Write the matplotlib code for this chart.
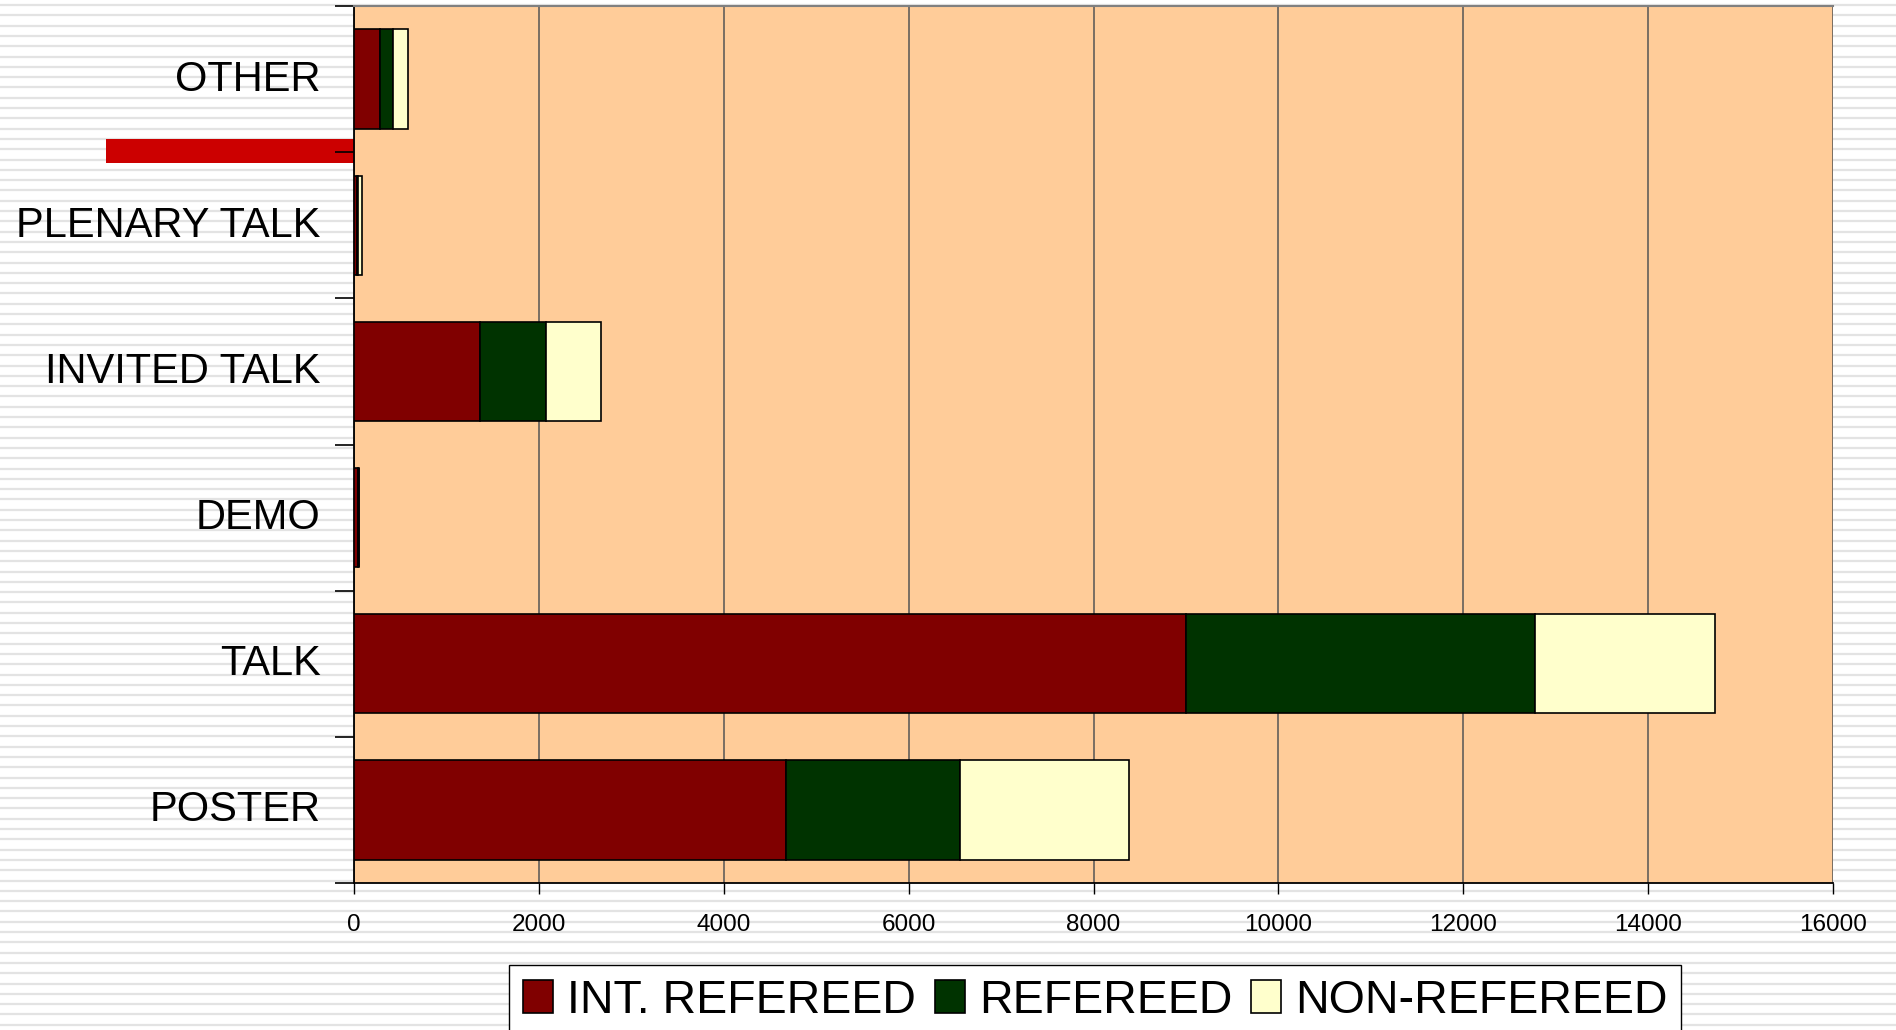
import numpy as np
import matplotlib
matplotlib.use("Agg")
import matplotlib.pyplot as plt
import matplotlib.transforms as mtransforms
from matplotlib.patches import Rectangle

plt.rcParams["font.family"] = ["Liberation Sans", "DejaVu Sans"]

# categories from bottom to top
categories = ["POSTER", "TALK", "DEMO", "INVITED TALK", "PLENARY TALK", "OTHER"]
int_refereed = [4670, 9000, 45, 1360, 30, 280]
refereed = [1885, 3780, 5, 720, 15, 140]
non_refereed = [1830, 1940, 5, 590, 40, 165]
series_names = ["INT. REFEREED", "REFEREED", "NON-REFEREED"]
series_colors = ["#800000", "#003300", "#FFFFCC"]
xticks = [0, 2000, 4000, 6000, 8000, 10000, 12000, 14000, 16000]

W, H = 1896, 1030
fig = plt.figure(figsize=(W / 100, H / 100), dpi=100)

# striped slide background
bg = fig.add_axes([0, 0, 1, 1], zorder=-5)
bg.set_xlim(0, W)
bg.set_ylim(H, 0)
bg.axis("off")
for yy in np.arange(5, H, 10.3):
    bg.axhline(yy, color="#e3e3e3", lw=1.6, zorder=1)
# red decoration bar
bg.add_patch(Rectangle((106, 139), 354 - 106, 24, color="#CC0000", lw=0, zorder=5))

ax = fig.add_axes([354 / W, 1 - 883 / H, (1833 - 354) / W, (883 - 6) / H])
ax.set_facecolor("#FFCC99")

y = np.arange(len(categories))
left = np.zeros(len(categories))
handles = []
for vals, name, col in zip([int_refereed, refereed, non_refereed], series_names, series_colors):
    vals = np.array(vals, dtype=float)
    b = ax.barh(y, vals, left=left, height=0.68, color=col, edgecolor="black",
                linewidth=1.2, label=name, zorder=3)
    handles.append(b)
    left += vals

ax.set_xlim(0, 16000)
ax.set_ylim(-0.5, len(categories) - 0.5)
ax.set_xticks(xticks)
ax.set_xticklabels([str(t) for t in xticks], fontsize=17.5)
ax.tick_params(axis="x", direction="out", length=8, width=1, pad=14, color="black")
ax.grid(axis="x", color="#555555", lw=1.1, zorder=1)

ax.set_yticks(np.arange(-0.5, len(categories), 1.0))
ax.set_yticklabels([])
ax.set_yticks(y, minor=True)
ax.set_yticklabels(categories, minor=True, fontsize=30)
ax.tick_params(axis="y", which="major", direction="out", length=14, width=1.2, color="black")
ax.tick_params(axis="y", which="minor", length=0, pad=24)
# nudge category labels up a little
shift = mtransforms.ScaledTranslation(0, 4 / 100, fig.dpi_scale_trans)
for lab in ax.get_yticklabels(minor=True):
    lab.set_transform(lab.get_transform() + shift)

ax.spines["right"].set_visible(False)
ax.spines["top"].set_color("#808080")
ax.spines["top"].set_linewidth(1.5)
ax.spines["left"].set_linewidth(1.3)
ax.spines["bottom"].set_linewidth(1.3)

leg = fig.legend(handles=handles, labels=series_names, loc="upper left",
                 bbox_to_anchor=(509 / W, 1 - 965 / H), ncol=3,
                 prop={"size": 33.5},
                 handlelength=0.65, handleheight=0.7, handletextpad=0.3,
                 columnspacing=0.4, borderpad=0.3, borderaxespad=0,
                 fancybox=False, framealpha=1, edgecolor="black")
leg.get_frame().set_linewidth(1.0)

fig.savefig("out.png", dpi=100)
